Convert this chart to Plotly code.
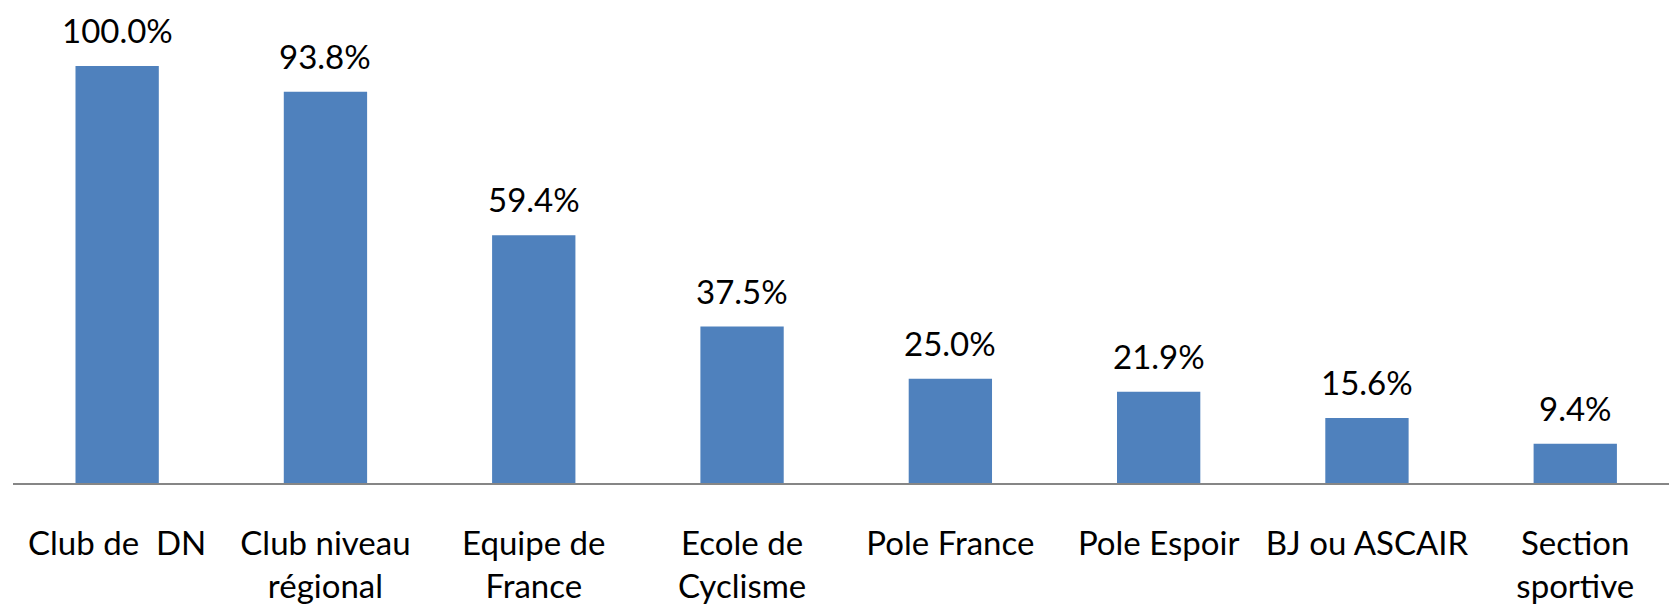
import plotly.graph_objects as go

categories = ["Club de  DN", "Club niveau<br>régional", "Equipe de<br>France", "Ecole de<br>Cyclisme",
              "Pole France", "Pole Espoir", "BJ ou ASCAIR", "Section<br>sportive"]
values = [100.0, 93.8, 59.4, 37.5, 25.0, 21.9, 15.6, 9.4]
labels = [f"{v:.1f}%" for v in values]

FONT = "Lato"
FS = 33

fig = go.Figure(go.Bar(
    x=list(range(len(categories))), y=values,
    marker=dict(color="#4F81BD", line=dict(width=0)),
    width=0.4,
))
for i, (v, t) in enumerate(zip(values, labels)):
    fig.add_annotation(x=i, y=v, text=t, showarrow=False, yanchor="bottom", yshift=14,
                       font=dict(family=FONT, size=FS, color="#000000"))
fig.update_layout(
    width=1669, height=604,
    margin=dict(l=13, r=0, t=0, b=121, autoexpand=False),
    paper_bgcolor="white", plot_bgcolor="white",
    showlegend=False,
    font=dict(family=FONT, size=FS, color="#000000"),
    xaxis=dict(
        tickmode="array", tickvals=list(range(len(categories))), ticktext=categories,
        range=[-0.5, 7.45], showgrid=False, zeroline=False, automargin=False,
        showline=True, linecolor="#868686", linewidth=2,
        ticks="", ticklabelstandoff=30,
        tickfont=dict(family=FONT, size=FS, color="#000000"),
    ),
    yaxis=dict(range=[0, 115.8], visible=False, showgrid=False, zeroline=False, automargin=False),
    bargap=0.6,
)
fig.write_html("out.html",
               config={"displayModeBar": False},
               post_script="document.body.style.margin='0';document.body.style.padding='0';document.body.style.overflow='hidden';")
